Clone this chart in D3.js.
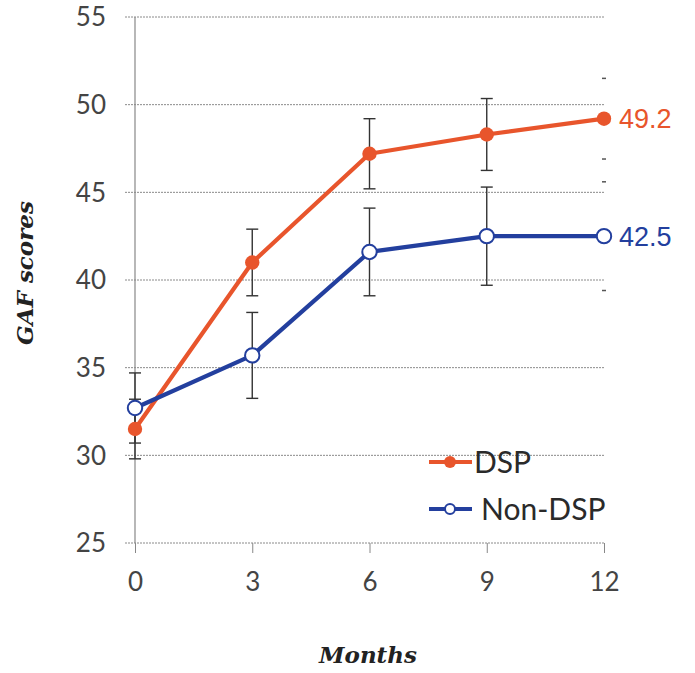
<!DOCTYPE html>
<html><head><meta charset="utf-8">
<script src="https://cdn.jsdelivr.net/npm/d3@7"></script>
<style>body{margin:0;background:#fff}svg{display:block}</style>
</head><body>
<svg id="c" width="695" height="673"></svg>
<script>
const months = [0, 3, 6, 9, 12];
const dspValues = [31.5, 41.0, 47.2, 48.3, 49.2];
const dspErrors = [1.7, 1.9, 2.0, 2.05, 2.3];
const nonDspValues = [32.7, 35.7, 41.6, 42.5, 42.5];
const nonDspErrors = [2.0, 2.45, 2.5, 2.8, 3.1];
const yTicks = [25, 30, 35, 40, 45, 50, 55];
const seriesNames = ["DSP", "Non-DSP"];
const endLabels = ["49.2", "42.5"];

const svg = d3.select("#c");
const x = d3.scaleLinear().domain([0, 12]).range([135, 604]);
const y = d3.scaleLinear().domain([25, 55]).range([543, 17]);
const tickFont = "Lato, 'Open Sans', sans-serif";

// gridlines
svg.append("g").selectAll("line").data(yTicks).join("line")
  .attr("x1", 125).attr("x2", 604)
  .attr("y1", d => y(d)).attr("y2", d => y(d))
  .attr("stroke", "#8a8a8a").attr("stroke-width", 1)
  .attr("stroke-dasharray", "2,1");

// y axis line
svg.append("line").attr("x1", x(0)).attr("x2", x(0))
  .attr("y1", y(55)).attr("y2", y(25)).attr("stroke", "#888").attr("stroke-width", 1.2);

// y tick labels
svg.append("g").selectAll("text").data(yTicks).join("text")
  .attr("x", 106).attr("y", d => y(d)).attr("dy", "0.36em")
  .attr("text-anchor", "end").attr("font-family", tickFont).attr("font-size", 26)
  .attr("fill", "#444").text(d => d);

// x axis ticks
const xAxis = d3.axisBottom(x).tickValues(months).tickSize(10).tickPadding(20).tickFormat(d => d);
const gx = svg.append("g").attr("transform", `translate(0,${y(25)})`).call(xAxis);
gx.select(".domain").remove();
gx.selectAll(".tick line").attr("stroke", "#888");
gx.selectAll(".tick text").attr("font-family", tickFont).attr("font-size", 26).attr("fill", "#444");

// axis titles
svg.append("text").attr("x", 368).attr("y", 663).attr("text-anchor", "middle")
  .attr("font-family", "'DejaVu Serif', serif").attr("font-style", "italic").attr("font-weight", "bold")
  .attr("font-size", 23).attr("fill", "#222").text("Months");
svg.append("text").attr("transform", "translate(33,273) rotate(-90)").attr("text-anchor", "middle")
  .attr("font-family", "'DejaVu Serif', serif").attr("font-style", "italic").attr("font-weight", "bold")
  .attr("font-size", 23).attr("fill", "#222").text("GAF scores");

const series = [
  {name: seriesNames[0], vals: dspValues, errs: dspErrors, color: "#E8552C", filled: true, label: endLabels[0]},
  {name: seriesNames[1], vals: nonDspValues, errs: nonDspErrors, color: "#233F9E", filled: false, label: endLabels[1]}
];

// error bars
series.forEach(s => {
  const g = svg.append("g");
  months.forEach((m, i) => {
    const cx = x(m), hi = y(s.vals[i] + s.errs[i]), lo = y(s.vals[i] - s.errs[i]);
    if (m === 12) {
      [hi, lo].forEach(yy => g.append("line").attr("x1", cx - 2).attr("x2", cx + 2).attr("y1", yy).attr("y2", yy)
        .attr("stroke", "#555").attr("stroke-width", 1.5));
      return;
    }
    g.append("line").attr("x1", cx).attr("x2", cx).attr("y1", hi).attr("y2", lo).attr("stroke", "#333").attr("stroke-width", 1.4);
    [hi, lo].forEach(yy => g.append("line").attr("x1", cx - 6).attr("x2", cx + 6).attr("y1", yy).attr("y2", yy)
      .attr("stroke", "#333").attr("stroke-width", 1.4));
  });
});

// lines & markers
const line = d3.line().x((d, i) => x(months[i])).y(d => y(d));
series.forEach(s => {
  svg.append("path").datum(s.vals).attr("d", line).attr("fill", "none")
    .attr("stroke", s.color).attr("stroke-width", 4.2).attr("stroke-linejoin", "round");
});
series.forEach(s => {
  svg.append("g").selectAll("circle").data(s.vals).join("circle")
    .attr("cx", (d, i) => x(months[i])).attr("cy", d => y(d)).attr("r", 7.2)
    .attr("fill", s.filled ? s.color : "#fff").attr("stroke", s.color).attr("stroke-width", s.filled ? 0 : 2);
  const last = s.vals[s.vals.length - 1];
  svg.append("text").attr("x", x(12) + 15).attr("y", y(last)).attr("dy", "0.36em")
    .attr("font-family", "'Liberation Sans', Arial, sans-serif").attr("font-size", 27)
    .attr("fill", s.color).text(s.label);
});

// legend
const legY = [462, 509];
series.forEach((s, i) => {
  const g = svg.append("g");
  g.append("line").attr("x1", 429).attr("x2", 472).attr("y1", legY[i]).attr("y2", legY[i])
    .attr("stroke", s.color).attr("stroke-width", 4);
  g.append("circle").attr("cx", 450).attr("cy", legY[i]).attr("r", s.filled ? 6 : 5)
    .attr("fill", s.filled ? s.color : "#fff").attr("stroke", s.color).attr("stroke-width", s.filled ? 0 : 2);
  g.append("text").attr("x", i === 0 ? 474 : 481).attr("y", legY[i]).attr("dy", "0.36em")
    .attr("font-family", tickFont).attr("font-size", 30).attr("fill", "#2a2a2a").text(s.name);
});
</script>
</body></html>
